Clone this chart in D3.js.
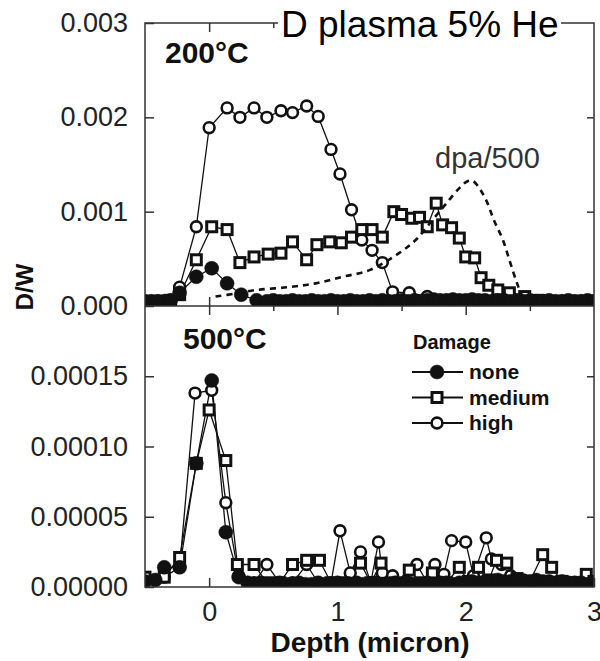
<!DOCTYPE html>
<html>
<head>
<meta charset="utf-8">
<script src="https://cdn.jsdelivr.net/npm/d3@7"></script>
<style>
  body { margin: 0; background: #fff; }
  text { font-family: "Liberation Sans", Arial, Helvetica, sans-serif; }
</style>
</head>
<body>
<div id="chart"></div>
<script>
// ---- 200°C panel (D/W) ----
const topNoneDepth = [-0.5, -0.45, -0.4, -0.35, -0.3, -0.23, -0.1, 0.02, 0.14, 0.25, 0.37,
  0.45, 0.5, 0.55, 0.6, 0.65, 0.7, 0.75, 0.8, 0.85, 0.9, 0.95, 1.0, 1.05, 1.1, 1.15, 1.2, 1.25,
  1.3, 1.35, 1.4, 1.45, 1.5, 1.55, 1.6, 1.65, 1.7, 1.75, 1.8, 1.85, 1.9, 1.95, 2.0, 2.05, 2.1,
  2.15, 2.2, 2.25, 2.3, 2.35, 2.4, 2.45, 2.5, 2.55, 2.6, 2.65, 2.7, 2.75, 2.8, 2.85, 2.9, 2.95, 3.0];
const topNone = [0.00005, 0.00005, 0.00005, 0.00005, 0.00006, 0.00014, 0.00031, 0.0004, 0.00024, 0.00012, 0.00006,
  0.00005, 0.00006, 0.00005, 0.00005, 0.00006, 0.00005, 0.00005, 0.00006, 0.00005, 0.00005,
  0.00006, 0.00005, 0.00005, 0.00006, 0.00005, 0.00005, 0.00006, 0.00005, 0.00006, 0.00005,
  0.00005, 0.00006, 0.00005, 0.00006, 0.00005, 0.00006, 0.00007, 0.00006, 0.00006, 0.00007,
  0.00006, 0.00006, 0.00007, 0.00006, 0.00006, 0.00005, 0.00006, 0.00006, 0.00005, 0.00006,
  0.00005, 0.00006, 0.00005, 0.00005, 0.00006, 0.00005, 0.00005, 0.00006, 0.00005, 0.00005,
  0.00006, 0.00005];

const topMediumDepth = [-0.5, -0.4, -0.3, -0.23, -0.1, 0.02, 0.14, 0.24, 0.35, 0.46, 0.56, 0.65, 0.76,
  0.84, 0.94, 1.03, 1.11, 1.19, 1.27, 1.35, 1.44, 1.5, 1.58, 1.64, 1.7, 1.77, 1.82, 1.89, 1.95, 2.0,
  2.07, 2.12, 2.18, 2.25, 2.34, 2.46, 2.57, 2.7, 2.8, 2.9, 3.0];
const topMedium = [0.00005, 0.00005, 0.00006, 0.00012, 0.00049, 0.00084, 0.00081, 0.00046, 0.00052, 0.00055,
  0.00056, 0.00068, 0.00049, 0.00065, 0.00068, 0.00067, 0.00073, 0.00081, 0.00081, 0.00073,
  0.001, 0.00097, 0.00093, 0.00094, 0.00084, 0.00109, 0.00086, 0.00083, 0.00072, 0.00052,
  0.00051, 0.0003, 0.00022, 0.00017, 0.00014, 0.0001, 0.00006, 0.00005, 0.00005, 0.00005, 0.00005];

const topHighDepth = [-0.5, -0.4, -0.3, -0.23, -0.1, 0.0, 0.14, 0.24, 0.35, 0.45, 0.56, 0.65, 0.76, 0.85,
  0.95, 1.02, 1.11, 1.19, 1.27, 1.35, 1.43, 1.56, 1.7, 1.85, 2.0, 2.15, 2.3, 2.45, 2.6, 2.75, 2.9, 3.0];
const topHigh = [0.00005, 0.00005, 0.00006, 0.0002, 0.00084, 0.00189, 0.0021, 0.002, 0.0021, 0.002,
  0.00207, 0.00205, 0.00212, 0.00201, 0.00166, 0.0014, 0.00102, 0.0007, 0.00059, 0.00046,
  0.00015, 0.00014, 0.0001, 0.00006, 0.00005, 0.00005, 0.00005, 0.00005, 0.00005, 0.00005, 0.00005, 0.00005];

// dpa/500 curve (dashed)
const dpaDepth = [0.05, 0.2, 0.37, 0.62, 0.83, 1.04, 1.25, 1.48, 1.61, 1.74, 1.85, 1.95, 2.01, 2.05,
  2.09, 2.16, 2.22, 2.29, 2.34, 2.39, 2.42, 2.46];
const dpa = [0.0001, 0.00013, 0.00017, 0.0002, 0.00024, 0.00031, 0.00038, 0.00056, 0.0007, 0.00091,
  0.00109, 0.00125, 0.00132, 0.00133, 0.00128, 0.00112, 0.00091, 0.0007, 0.00049, 0.00028, 0.00017, 0.00005];

// ---- 500°C panel ----
const botNoneDepth = [-0.5, -0.42, -0.35, -0.23, -0.1, 0.02, 0.13, 0.23, 0.3,
  0.35, 0.4, 0.45, 0.5, 0.55, 0.6, 0.65, 0.7, 0.75, 0.8, 0.85, 0.9, 0.95, 1.0, 1.05, 1.1, 1.15,
  1.2, 1.25, 1.3, 1.35, 1.4, 1.45, 1.5, 1.55, 1.6, 1.65, 1.7, 1.75, 1.8, 1.85, 1.9, 1.95, 2.0,
  2.05, 2.1, 2.15, 2.2, 2.25, 2.3, 2.35, 2.4, 2.45, 2.5, 2.55, 2.6, 2.65, 2.7, 2.75, 2.8, 2.85,
  2.9, 2.95, 3.0];
const botNone = [0.000004, 0.000005, 0.000014, 0.000014, 0.000088, 0.000147, 0.000039, 0.000007, 0.000003,
  0.000002, 0.000003, 0.000002, 0.000002, 0.000003, 0.000002, 0.000002, 0.000003, 0.000002, 0.000002,
  0.000003, 0.000002, 0.000002, 0.000003, 0.000002, 0.000002, 0.000003, 0.000002, 0.000002, 0.000003,
  0.000002, 0.000002, 0.000003, 0.000002, 0.000003, 0.000002, 0.000002, 0.000003, 0.000002, 0.000003,
  0.000003, 0.000002, 0.000003, 0.000003, 0.000004, 0.000003, 0.000004, 0.000004, 0.000005, 0.000004,
  0.000004, 0.000005, 0.000004, 0.000004, 0.000005, 0.000004, 0.000004, 0.000003, 0.000004, 0.000003,
  0.000003, 0.000003, 0.000002, 0.000003];

const botMediumDepth = [-0.5, -0.35, -0.23, -0.1, 0.0, 0.13, 0.22, 0.35, 0.45, 0.55, 0.65, 0.76, 0.86,
  0.95, 1.05, 1.18, 1.26, 1.34, 1.45, 1.56, 1.65, 1.74, 1.85, 1.95, 2.02, 2.1, 2.18, 2.24, 2.32,
  2.4, 2.5, 2.6, 2.67, 2.75, 2.85, 2.94, 3.0];
const botMedium = [0.000007, 0.000007, 0.000021, 0.000088, 0.000126, 0.00009, 0.000016, 0.000016, 0.000003,
  0.000003, 0.000016, 0.000019, 0.000019, 0.000003, 0.000003, 0.000017, 0.000003, 0.000017, 0.000003,
  0.000012, 0.000003, 0.00001, 0.000003, 0.000014, 0.000004, 0.000014, 0.000005, 0.000019, 0.000017,
  0.000006, 0.000004, 0.000023, 0.000014, 0.000004, 0.000003, 0.000009, 0.000004];

const botHighDepth = [-0.5, -0.35, -0.23, -0.11, 0.02, 0.13, 0.23, 0.35, 0.45, 0.55, 0.65, 0.76, 0.85,
  0.95, 1.02, 1.1, 1.18, 1.26, 1.32, 1.35, 1.43, 1.52, 1.62, 1.7, 1.76, 1.83, 1.89, 2.0, 2.06,
  2.16, 2.2, 2.28, 2.35, 2.45, 2.55, 2.65, 2.75, 2.85, 2.95];
const botHigh = [0.000006, 0.000007, 0.000014, 0.000138, 0.00014, 0.00006, 0.000008, 0.000003, 0.000016,
  0.000003, 0.000003, 0.000016, 0.000003, 0.000003, 0.00004, 0.00001, 0.000025, 0.000003, 0.000032,
  0.00001, 0.000008, 0.000003, 0.000016, 0.000003, 0.000016, 0.000009, 0.000033, 0.000032, 0.000008,
  0.000035, 0.00002, 0.000016, 0.000008, 0.000005, 0.000004, 0.000004, 0.000003, 0.000003, 0.000003];

// ticks and labels
const xTicks = [0, 1, 2, 3];
const xMinorTicks = [0.5, 1.5, 2.5];
const topYTicks = [0, 0.001, 0.002, 0.003];
const botYTicks = [0, 0.00005, 0.0001, 0.00015];
const legendLabels = ["none", "medium", "high"];

function drawChart() {
    const width = 600, height = 661;
    const left = 145, right = 594, top = 23, mid = 306, bottom = 587;
    const ink = "#111";
    const axisColor = "#333";

    const svg = d3.select("#chart")
        .append("svg")
        .attr("width", width)
        .attr("height", height);

    // Skale
    const x = d3.scaleLinear().domain([-0.5, 3]).range([left, right]);
    const yTop = d3.scaleLinear().domain([0, 0.003]).range([mid, top]);
    const yBot = d3.scaleLinear().domain([0, 0.0002]).range([bottom, mid]);

    const defs = svg.append("defs");
    defs.append("clipPath").attr("id", "clipTop").append("rect")
        .attr("x", left).attr("y", top).attr("width", right - left).attr("height", mid - top);
    defs.append("clipPath").attr("id", "clipBot").append("rect")
        .attr("x", left).attr("y", mid).attr("width", right - left).attr("height", bottom - mid);

    // Osi s tickami navznoter
    function styleAxis(g) {
        g.select(".domain").remove();
        g.selectAll(".tick line").attr("stroke", axisColor).attr("stroke-width", 1.5);
        g.selectAll(".tick text")
            .attr("fill", "#222")
            .style("font-size", "27px");
    }
    const noLabel = () => "";

    // levo
    svg.append("g").attr("transform", `translate(${left},0)`)
        .call(d3.axisLeft(yTop).tickValues(topYTicks).tickSize(-9).tickPadding(17).tickFormat(d3.format(".3f")))
        .call(styleAxis);
    svg.append("g").attr("transform", `translate(${left},0)`)
        .call(d3.axisLeft(yBot).tickValues(botYTicks).tickSize(-9).tickPadding(17).tickFormat(d3.format(".5f")))
        .call(styleAxis);
    // desno
    svg.append("g").attr("transform", `translate(${right},0)`)
        .call(d3.axisRight(yTop).tickValues(topYTicks.slice(1, 3)).tickSize(-7).tickFormat(noLabel))
        .call(styleAxis);
    svg.append("g").attr("transform", `translate(${right},0)`)
        .call(d3.axisRight(yBot).tickValues(botYTicks.slice(1)).tickSize(-7).tickFormat(noLabel))
        .call(styleAxis);
    // zgoraj / sredina / spodaj
    [[d3.axisTop, top], [d3.axisBottom, mid], [d3.axisTop, mid]].forEach(([ax, yy]) => {
        svg.append("g").attr("transform", `translate(0,${yy})`)
            .call(ax(x).tickValues(xTicks.slice(0, 3)).tickSize(-9).tickFormat(noLabel)).call(styleAxis);
        svg.append("g").attr("transform", `translate(0,${yy})`)
            .call(ax(x).tickValues(xMinorTicks).tickSize(-5).tickFormat(noLabel)).call(styleAxis);
    });
    svg.append("g").attr("transform", `translate(0,${bottom})`)
        .call(d3.axisBottom(x).tickValues(xTicks).tickSize(-9).tickPadding(15).tickFormat(d3.format("d")))
        .call(styleAxis);
    svg.append("g").attr("transform", `translate(0,${bottom})`)
        .call(d3.axisBottom(x).tickValues(xMinorTicks).tickSize(-5).tickFormat(noLabel))
        .call(styleAxis);

    // Podatki
    function drawPanel(clipId, y, series) {
        const g = svg.append("g").attr("clip-path", `url(#${clipId})`);
        const line = d3.line().x(d => x(d[0])).y(d => y(d[1]));
        series.forEach(s => {
            const pts = s.depth.map((d, i) => [d, s.values[i]]);
            g.append("path")
                .attr("d", line(pts))
                .attr("fill", "none")
                .attr("stroke", ink)
                .attr("stroke-width", 1.3);
        });
        series.forEach(s => {
            const pts = s.depth.map((d, i) => [d, s.values[i]]);
            drawMarkers(g, pts.map(p => [x(p[0]), y(p[1])]), s.kind);
        });
        return g;
    }

    function drawMarkers(g, pts, kind) {
        if (kind === "medium") {
            g.append("g").selectAll("rect").data(pts).enter().append("rect")
                .attr("x", d => d[0] - 5).attr("y", d => d[1] - 5)
                .attr("width", 10).attr("height", 10)
                .attr("fill", "#fff").attr("stroke", ink).attr("stroke-width", 3);
        } else {
            g.append("g").selectAll("circle").data(pts).enter().append("circle")
                .attr("cx", d => d[0]).attr("cy", d => d[1])
                .attr("r", kind === "none" ? 7 : 5.4)
                .attr("fill", kind === "none" ? ink : "#fff")
                .attr("stroke", ink)
                .attr("stroke-width", kind === "none" ? 0.5 : 2.6);
        }
    }

    const gTop = drawPanel("clipTop", yTop, [
        { kind: "high", depth: topHighDepth, values: topHigh },
        { kind: "medium", depth: topMediumDepth, values: topMedium },
        { kind: "none", depth: topNoneDepth, values: topNone }
    ]);
    // dpa/500
    gTop.append("path")
        .attr("d", d3.line().curve(d3.curveCatmullRom)
            .x((d, i) => x(d)).y((d, i) => yTop(dpa[i]))(dpaDepth))
        .attr("fill", "none")
        .attr("stroke", ink)
        .attr("stroke-width", 2.6)
        .attr("stroke-dasharray", "6,5");

    drawPanel("clipBot", yBot, [
        { kind: "high", depth: botHighDepth, values: botHigh },
        { kind: "medium", depth: botMediumDepth, values: botMedium },
        { kind: "none", depth: botNoneDepth, values: botNone }
    ]);

    // Okvir
    svg.append("rect")
        .attr("x", left).attr("y", top).attr("width", right - left).attr("height", bottom - top)
        .attr("fill", "none").attr("stroke", axisColor).attr("stroke-width", 1.5);
    svg.append("line")
        .attr("x1", left).attr("x2", right).attr("y1", mid).attr("y2", mid)
        .attr("stroke", axisColor).attr("stroke-width", 1.5);

    // Besedila
    svg.append("rect").attr("x", 278).attr("y", 6).attr("width", 283).attr("height", 40).attr("fill", "#fff");
    svg.append("text").attr("x", 281).attr("y", 37)
        .style("font-size", "37px").attr("fill", "#000")
        .text("D plasma 5% He");

    svg.append("text").attr("x", 165).attr("y", 63)
        .style("font-size", "30px").style("font-weight", "bold").attr("fill", ink)
        .text("200°C");
    svg.append("text").attr("x", 183).attr("y", 349)
        .style("font-size", "30px").style("font-weight", "bold").attr("fill", ink)
        .text("500°C");
    svg.append("text").attr("x", 435).attr("y", 168)
        .style("font-size", "29px").attr("fill", "#333")
        .text("dpa/500");

    svg.append("text")
        .attr("transform", "translate(33,287) rotate(-90)")
        .style("text-anchor", "middle")
        .style("font-size", "24px").style("font-weight", "bold").attr("fill", ink)
        .text("D/W");
    svg.append("text")
        .attr("x", 370).attr("y", 652)
        .style("text-anchor", "middle")
        .style("font-size", "28px").style("font-weight", "bold").attr("fill", ink)
        .text("Depth (micron)");

    // Legenda
    const leg = svg.append("g");
    leg.append("text").attr("x", 413).attr("y", 349)
        .style("font-size", "20px").style("font-weight", "bold").attr("fill", ink)
        .text("Damage");
    const legKinds = ["none", "medium", "high"];
    legendLabels.forEach((lab, i) => {
        const yy = 372 + i * 25.5;
        leg.append("line").attr("x1", 412).attr("x2", 463).attr("y1", yy).attr("y2", yy)
            .attr("stroke", ink).attr("stroke-width", 2);
        drawMarkers(leg, [[437, yy]], legKinds[i]);
        leg.append("text").attr("x", 469).attr("y", yy + 7)
            .style("font-size", "21px").style("font-weight", "bold").attr("fill", ink)
            .text(lab);
    });
}

drawChart();
</script>
</body>
</html>
